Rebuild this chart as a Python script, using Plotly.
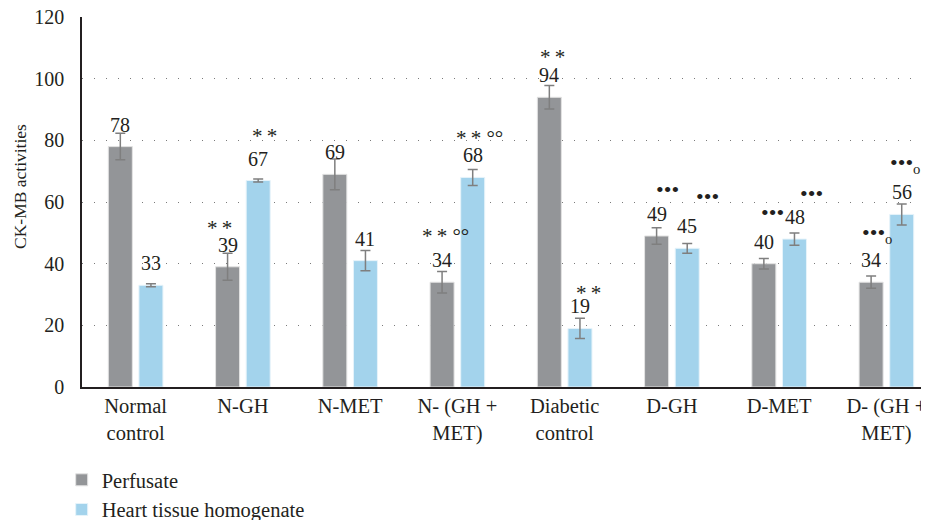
import plotly.graph_objects as go

categories = ["Normal<br>control", "N-GH", "N-MET", "N- (GH +<br>MET)", "Diabetic<br>control",
              "D-GH", "D-MET", "D- (GH +<br>MET)"]
perfusate = [78, 39, 69, 34, 94, 49, 40, 34]
perfusate_err = [4.3, 4.4, 5.0, 3.5, 3.8, 2.7, 1.7, 2.0]
tissue = [33, 67, 41, 68, 19, 45, 48, 56]
tissue_err = [0.5, 0.5, 3.3, 2.6, 3.3, 1.6, 2.0, 3.4]
AST = "*\u2009*"
DEG = "°°"
DOTS = "<span style='font-size:22px'>•••</span>"
RING = "<sub>o</sub>"
perfusate_marks = ["", AST, "", AST + " " + DEG, AST, DOTS, DOTS, DOTS + RING]
tissue_marks = ["", AST, "", AST + " " + DEG, AST, DOTS, DOTS, DOTS + RING]

# layout-only offsets for significance markers (px)
perf_mark_dx = [0, -8, 0, 3, 3.5, 11, 9, 6]
perf_mark_dy = [0, 39, 0, 46, 40, 46, 51, 49]
tis_mark_dx = [0, 6.5, 0, 7, 9, 20, 16.5, 3]
tis_mark_dy = [0, 45, 0, 39, 35, 52, 46, 51]

FONT = "Liberation Serif, DejaVu Serif, serif"
GRAY = "#939598"
BLUE = "#a3d3ec"
ERR = "#7f7f7f"
TXT = "#231f20"

# page body has an 8px default margin; the figure is sized to fit inside the window
FW, FH = 921, 512
L, R, T, B = 74, 0, 9, 133
PW, PH = FW - L - R, FH - T - B

fig = go.Figure()
fig.add_trace(go.Bar(
    name="Perfusate", x=categories, y=perfusate,
    marker=dict(color=GRAY, line=dict(color="#e3e3e3", width=1)),
    error_y=dict(type="data", array=perfusate_err, color=ERR, thickness=1.5, width=5),
))
fig.add_trace(go.Bar(
    name="Heart tissue homogenate", x=categories, y=tissue,
    marker=dict(color=BLUE, line=dict(color="#e6f3fa", width=1)),
    error_y=dict(type="data", array=tissue_err, color=ERR, thickness=1.5, width=5),
))

off = 0.143
ann = []
for i in range(len(categories)):
    for vals, marks, dxs, dys, sgn in [(perfusate, perfusate_marks, perf_mark_dx, perf_mark_dy, -1),
                                       (tissue, tissue_marks, tis_mark_dx, tis_mark_dy, 1)]:
        ann.append(dict(x=i + sgn * off, y=vals[i], xref="x", yref="y", text=str(vals[i]),
                        showarrow=False, yanchor="middle", yshift=22,
                        font=dict(family=FONT, size=20, color=TXT)))
        if marks[i]:
            ann.append(dict(x=i + sgn * off, y=vals[i], xref="x", yref="y", text=marks[i],
                            showarrow=False, yanchor="middle", yshift=dys[i], xshift=dxs[i],
                            font=dict(family=FONT, size=21, color=TXT)))

ann.append(dict(x=(12 - L) / PW, y=(FH - B - 179) / PH, xref="paper", yref="paper",
                xanchor="center", yanchor="middle",
                text="CK-MB activities", showarrow=False, textangle=-90,
                font=dict(family=FONT, size=17.5, color=TXT)))

fig.update_layout(
    width=FW, height=FH,
    margin=dict(l=L, r=R, t=T, b=B, autoexpand=False),
    paper_bgcolor="white", plot_bgcolor="white",
    barmode="group", bargap=0.429, bargroupgap=0.216,
    font=dict(family=FONT, size=20, color=TXT),
    xaxis=dict(range=[-0.5, 7.397], showline=True, linecolor=TXT, linewidth=1.5, automargin=False,
               ticks="", tickfont=dict(family=FONT, size=20.5, color=TXT), showgrid=False,
               ticklabeloverflow="allow"),
    yaxis=dict(range=[0, 120.05], tickvals=[0, 20, 40, 60, 80, 100, 120], showline=True, linecolor=TXT,
               linewidth=1.5, automargin=False, ticklabeloverflow="allow",
               ticks="", showgrid=True, gridcolor="#7a7a7a", gridwidth=1, griddash="1px,11px",
               zeroline=False, tickfont=dict(family=FONT, size=20, color=TXT), ticklabelstandoff=12),
    legend=dict(xref="container", yref="container", x=53.7 / FW, xanchor="left",
                y=1 - 452 / FH, yanchor="top", orientation="v",
                font=dict(family=FONT, size=20.5, color=TXT), bgcolor="rgba(0,0,0,0)"),
    annotations=ann,
)

fig.write_html("out.html")
